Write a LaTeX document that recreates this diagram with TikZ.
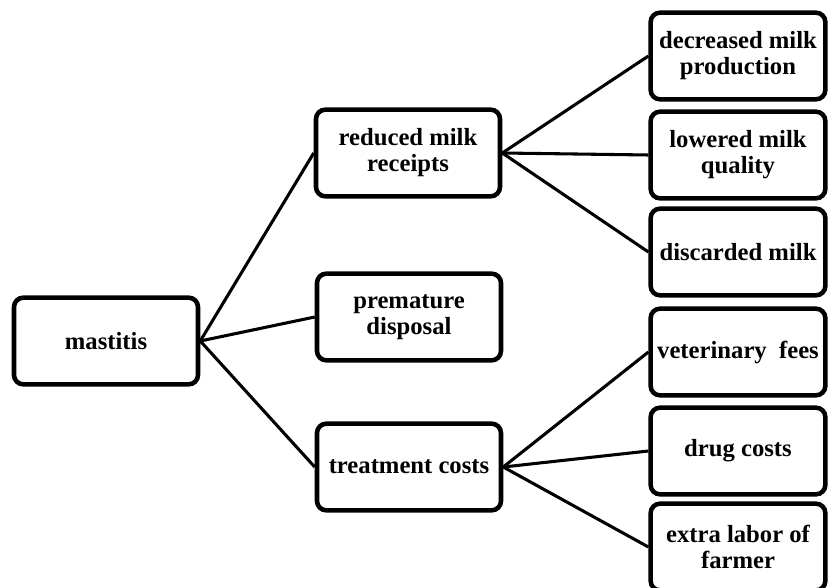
\documentclass[tikz,border=0pt]{standalone}
\usepackage{fontspec}
\setmainfont{Liberation Serif}
\usepackage{tikz}
\tikzstyle{cause}=[rectangle,rounded corners=7pt,draw=black,line width=3.4pt,fill=white,align=center,minimum width=138pt,minimum height=65pt,font=\fontsize{18.5}{19.5}\selectfont\bfseries]
\tikzstyle{effect}=[rectangle,rounded corners=7pt,draw=black,line width=3.4pt,fill=white,align=center,minimum width=131pt,minimum height=65pt,font=\fontsize{18.5}{19.5}\selectfont\bfseries]
\tikzstyle{link}=[line width=2.3pt,black]

\begin{document}
\begin{tikzpicture}[x=0.75pt,y=-0.75pt]
        \useasboundingbox (0,0) rectangle (828,588);

        \node at (106,341) [cause]  (mastitis)  {mastitis};
        \node at (408,153) [cause]  (receipts)  {reduced milk\\receipts};
        \node at (409,317) [cause]  (disposal)  {premature\\disposal};
        \node at (409,467) [cause]  (treatment) {treatment costs};

        \node at (738,56)  [effect] (production) {decreased milk\\production};
        \node at (738,155) [effect] (quality)    {lowered milk\\quality};
        \node at (738,252) [effect] (discarded)  {discarded milk};
        \node at (738,352) [effect] (fees)       {veterinary\ \ fees};
        \node at (738,451) [effect] (drugs)      {drug costs};
        \node at (738,547) [effect] (labor)      {extra labor of\\farmer};

        \draw [link] (mastitis.east) -- (receipts.west);
        \draw [link] (mastitis.east) -- (disposal.west);
        \draw [link] (mastitis.east) -- (treatment.west);

        \draw [link] (receipts.east) -- (production.west);
        \draw [link] (receipts.east) -- (quality.west);
        \draw [link] (receipts.east) -- (discarded.west);

        \draw [link] (treatment.east) -- (fees.west);
        \draw [link] (treatment.east) -- (drugs.west);
        \draw [link] (treatment.east) -- (labor.west);
      \end{tikzpicture}
\end{document}
